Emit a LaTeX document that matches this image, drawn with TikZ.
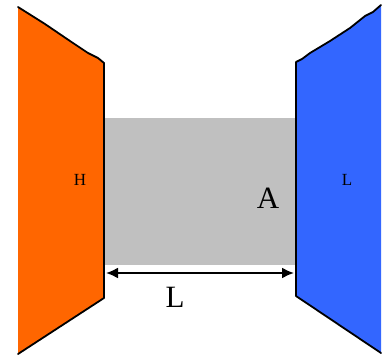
\documentclass[tikz,border=0pt]{standalone}
\usepackage{fontspec}
\setmainfont{Liberation Serif}
\usetikzlibrary{arrows.meta}
\definecolor{hot}{HTML}{FF6600}
\definecolor{cold}{HTML}{3366FF}
\definecolor{bar}{HTML}{C0C0C0}
\tikzset{edge/.style={line width=1.8pt,line join=round,line cap=round},
  small/.style={font=\fontsize{17}{20}\selectfont, inner sep=0pt},
  big/.style={font=\fontsize{31}{36}\selectfont, inner sep=0pt}}
\begin{document}
\begin{tikzpicture}[x=1pt,y=-1pt]
\useasboundingbox (0,0) rectangle (382,356);
% gray bar
\fill[bar] (104,118) rectangle (296,265);
% hot plate
\fill[hot] (18,7) -- (45,24) -- (70,41) -- (88,53) -- (98,58) -- (104,63) -- (104,298) -- (18,354) -- cycle;
\draw[edge] (18,7) -- (45,24) -- (70,41) -- (88,53) -- (98,58) -- (104,63) -- (104,298) -- (18,354);
% cold plate
\fill[cold] (381,5) -- (373,12) -- (365,16) -- (350,28) -- (330,41) -- (310,53) -- (302,59) -- (296,62) -- (296,296) -- (381,353) -- cycle;
\draw[edge] (381,5) -- (373,12) -- (365,16) -- (350,28) -- (330,41) -- (310,53) -- (302,59) -- (296,62) -- (296,296) -- (381,353);
% arrow
\coordinate (a1) at (106,273);
\coordinate (a2) at (294,273);
\draw[line width=2pt,{Latex[length=12pt,width=11pt]}-{Latex[length=12pt,width=11pt]}] (a1) -- (a2);
% labels
\node[small] (h) at (80,180) {H};
\node[small] (l) at (347,180) {L};
\node[big] (A) at (268,198) {A};
\node[big] (len) at (175,297) {L};
\end{tikzpicture}
\end{document}
